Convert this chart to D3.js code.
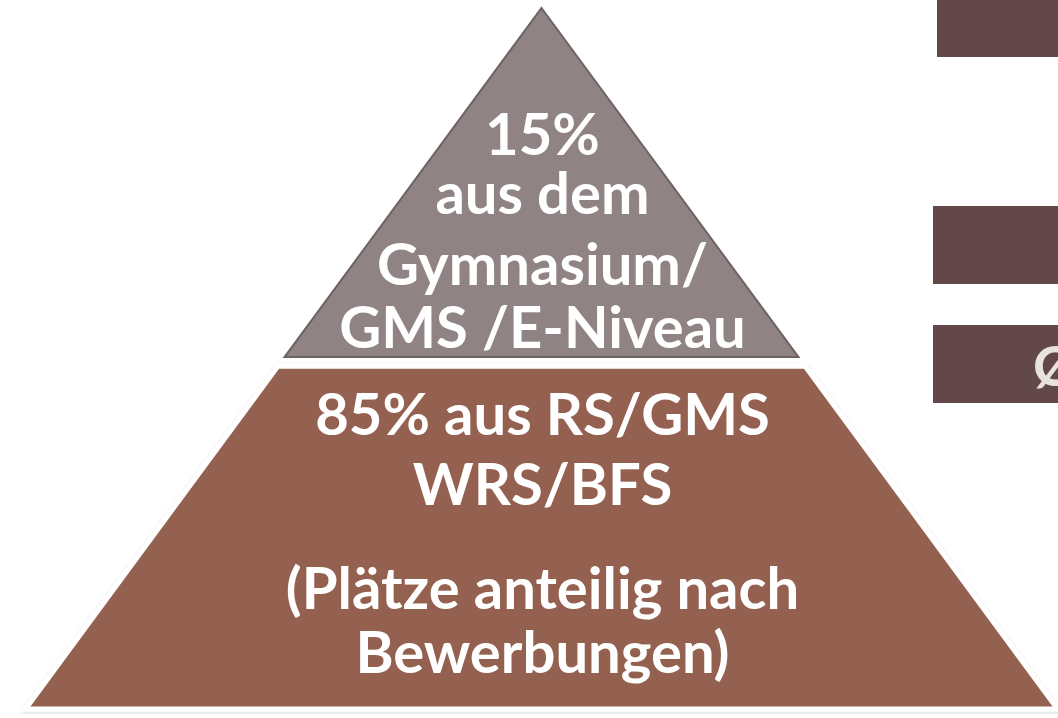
<!DOCTYPE html>
<html>
<head>
<meta charset="utf-8">
<script src="https://cdn.jsdelivr.net/npm/d3@7"></script>
<style>
  html, body { margin: 0; padding: 0; background: #fff; overflow: hidden; }
  svg { display: block; }
</style>
</head>
<body>
<svg id="pyr" width="1058" height="718"></svg>
<script>
// Tiers of the admission pyramid (top to bottom)
var tierNames = ["gym", "rs"];
var tierShares = [15, 85];
var tierColors = ["#8f8383", "#94614f"];
var tierLabels = [
  ["15%", "aus dem", "Gymnasium/", "GMS /E-Niveau"],
  ["85% aus RS/GMS", "WRS/BFS", "", "(Plätze anteilig nach", "Bewerbungen)"]
];
// fraction of pyramid height where each tier starts / ends
var tierStart = [0, 0.511];
var tierEnd = [0.498, 1];

// cut-off boxes at the right edge
var sideBoxes = ["", "", "Ø"];

var svg = d3.select("svg#pyr");
var W = 1058, H = 718;

var apexX = 541.5;
var y = d3.scaleLinear().domain([0, 1]).range([8, 709]);
var halfW = d3.scaleLinear().domain([0, 1]).range([0, 516]);

var shadow = svg.append("defs").append("filter")
    .attr("id", "sh").attr("x", "-5%").attr("y", "-5%")
    .attr("width", "110%").attr("height", "110%");
shadow.append("feDropShadow")
    .attr("dx", 0).attr("dy", 1).attr("stdDeviation", 1.5)
    .attr("flood-color", "#000").attr("flood-opacity", 0.18);

function tierPath(i) {
  var a = tierStart[i], b = tierEnd[i];
  if (a === 0) {
    return "M" + apexX + "," + y(0) +
      "L" + (apexX + halfW(b)) + "," + y(b) +
      "L" + (apexX - halfW(b)) + "," + y(b) + "Z";
  }
  return "M" + (apexX - halfW(a)) + "," + y(a) +
    "L" + (apexX + halfW(a)) + "," + y(a) +
    "L" + (apexX + halfW(b)) + "," + y(b) +
    "L" + (apexX - halfW(b)) + "," + y(b) + "Z";
}

var g = svg.append("g");

g.selectAll("path.tier")
  .data(tierNames)
  .enter().append("path")
    .attr("class", "tier")
    .attr("d", function(d, i) { return tierPath(i); })
    .style("fill", function(d, i) { return tierColors[i]; })
    .style("stroke", function(d, i) { return i === 0 ? "#6e6264" : "#fff"; })
    .style("stroke-width", function(d, i) { return i === 0 ? 2 : 5; })
    .style("stroke-linejoin", "miter")
    .attr("filter", function(d, i) { return i === 0 ? null : "url(#sh)"; });

// labels
var baselines = [
  [155, 214, 285, 348],
  [435, 505, 0, 609, 673]
];
tierNames.forEach(function(t, i) {
  g.append("text")
    .attr("text-anchor", "middle")
    .attr("font-family", "Lato, 'Open Sans', sans-serif")
    .attr("font-weight", "bold")
    .attr("font-size", "58px")
    .style("fill", "#fff")
    .selectAll("tspan")
    .data(tierLabels[i].filter(function(s) { return s !== ""; }))
    .enter().append("tspan")
      .attr("x", apexX + 1)
      .attr("y", function(d) { return baselines[i][tierLabels[i].indexOf(d)]; })
      .text(function(d) { return d; });
});

// boxes at the right
var boxY = [[0, 57], [206, 284], [325, 403]];
var boxX = [937, 933, 933];
var side = svg.append("g");
side.selectAll("rect")
  .data(sideBoxes)
  .enter().append("rect")
    .attr("x", function(d, i) { return boxX[i]; })
    .attr("y", function(d, i) { return boxY[i][0]; })
    .attr("width", function(d, i) { return W - boxX[i] + 10; })
    .attr("height", function(d, i) { return boxY[i][1] - boxY[i][0]; })
    .style("fill", "#634849");
side.selectAll("text")
  .data(sideBoxes)
  .enter().append("text")
    .attr("x", 1033)
    .attr("y", function(d, i) { return boxY[i][0] + 61; })
    .attr("font-family", "Lato, 'Open Sans', sans-serif")
    .attr("font-weight", "bold")
    .attr("font-size", "56px")
    .style("fill", "#e9e3dd")
    .text(function(d) { return d; });
</script>
</body>
</html>
